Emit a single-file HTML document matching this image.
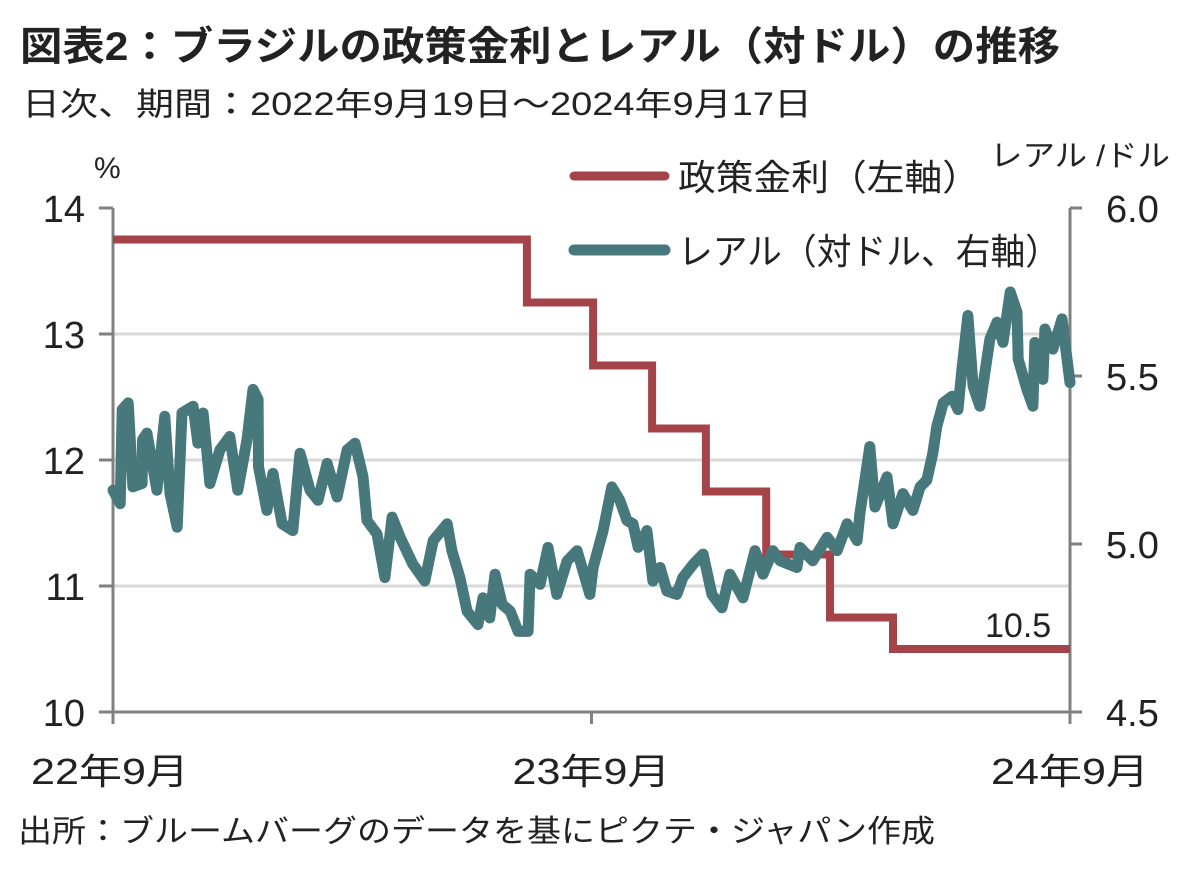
<!DOCTYPE html>
<html><head><meta charset="utf-8">
<style>
body{margin:0;background:#fff;}
svg text{font-family:"Liberation Sans","Noto Sans CJK JP",sans-serif;fill:#222;}
</style></head>
<body>
<svg id="chart" width="1200" height="866" viewBox="0 0 1200 866" xmlns="http://www.w3.org/2000/svg">
<text x="20" y="60" font-size="40" font-weight="bold" textLength="1040" lengthAdjust="spacingAndGlyphs">図表2：ブラジルの政策金利とレアル（対ドル）の推移</text>
<text x="22" y="115" font-size="32" fill="#444" textLength="790" lengthAdjust="spacingAndGlyphs">日次、期間：2022年9月19日～2024年9月17日</text>
<text x="94" y="178" font-size="30">%</text>
<text x="990" y="166" font-size="30" textLength="180" lengthAdjust="spacingAndGlyphs">レアル /ドル</text>
<g id="grid"></g>
<g id="axes"></g>
<g id="series"></g>
<line x1="574" y1="176" x2="665" y2="176" stroke="#a5434a" stroke-width="9" stroke-linecap="round"/>
<text x="678" y="190" font-size="36" textLength="302" lengthAdjust="spacingAndGlyphs">政策金利（左軸）</text>
<line x1="574" y1="250" x2="665" y2="250" stroke="#47787c" stroke-width="11" stroke-linecap="round"/>
<text x="678" y="264" font-size="36" textLength="382" lengthAdjust="spacingAndGlyphs">レアル（対ドル、右軸）</text>
<text x="985" y="637" font-size="34">10.5</text>
<text x="18" y="842" font-size="31" textLength="917" lengthAdjust="spacingAndGlyphs">出所：ブルームバーグのデータを基にピクテ・ジャパン作成</text>
</svg>
<script>
const rateMonths=[0,10.38,12.04,13.52,14.87,16.38,17.98,19.56,24];
const rateValues=[13.75,13.25,12.75,12.25,11.75,11.25,10.75,10.5,10.5];
const fxMonths=[0,0.18,0.23,0.38,0.50,0.73,0.74,0.85,1.10,1.30,1.43,1.61,1.73,2.01,2.13,2.26,2.43,2.68,2.93,3.13,3.36,3.51,3.64,3.65,3.86,4.01,4.24,4.51,4.69,4.94,5.14,5.37,5.62,5.87,6.07,6.27,6.37,6.62,6.82,7.00,7.20,7.52,7.82,8.03,
8.38,8.50,8.70,8.88,9.15,9.28,9.45,9.58,9.76,9.96,10.16,10.41,10.46,10.71,10.91,11.13,11.39,11.64,11.96,12.04,12.29,12.51,12.71,12.89,13.04,13.17,13.39,13.54,13.72,13.89,14.14,14.29,14.55,14.80,15.02,15.27,15.47,15.80,16.10,16.30,
16.55,16.73,17.15,17.23,17.55,17.91,18.16,18.41,18.66,18.73,18.98,19.11,19.41,19.56,19.81,20.06,20.24,20.41,20.56,20.66,20.82,21.04,21.19,21.29,21.44,21.57,21.74,21.99,22.17,22.32,22.50,22.67,22.70,22.92,23.07,23.12,23.32,23.37,23.57,23.80,24.00];
const fxValues=[5.16,5.12,5.40,5.42,5.17,5.18,5.31,5.33,5.16,5.38,5.15,5.05,5.39,5.41,5.30,5.39,5.18,5.28,5.32,5.16,5.31,5.46,5.43,5.23,5.10,5.21,5.06,5.04,5.27,5.16,5.13,5.24,5.14,5.28,5.30,5.20,5.07,5.03,4.90,5.08,5.02,4.94,4.89,5.01,
5.06,4.98,4.90,4.80,4.76,4.84,4.78,4.91,4.82,4.80,4.74,4.74,4.91,4.88,4.99,4.85,4.95,4.98,4.85,4.93,5.04,5.17,5.13,5.07,5.06,4.99,5.04,4.89,4.93,4.86,4.85,4.90,4.94,4.97,4.85,4.81,4.91,4.84,4.98,4.91,
4.98,4.95,4.93,4.99,4.95,5.02,4.98,5.06,5.01,5.09,5.29,5.11,5.20,5.06,5.15,5.10,5.17,5.19,5.27,5.35,5.42,5.44,5.40,5.52,5.68,5.47,5.41,5.61,5.66,5.60,5.75,5.69,5.55,5.46,5.41,5.60,5.49,5.64,5.58,5.67,5.48];
const leftTicks=[10,11,12,13,14];
const rightTicks=["4.5","5.0","5.5","6.0"];
const xTickMonths=[0,12,24];
const xTickLabels=["22年9月","23年9月","24年9月"];

const X0=113,X1=1070,Y0=712,Y1=208;
const xs=m=>X0+(X1-X0)*m/24;
const yL=v=>Y0-(Y0-Y1)*(v-10)/4;
const yR=v=>Y0-(Y0-Y1)*(v-4.5)/1.5;
const NS="http://www.w3.org/2000/svg";
function mk(parent,tag,attrs,text){const e=document.createElementNS(NS,tag);for(const k in attrs)e.setAttribute(k,attrs[k]);if(text!=null)e.textContent=text;parent.appendChild(e);return e;}
const grid=document.getElementById('grid'),axes=document.getElementById('axes'),series=document.getElementById('series');
leftTicks.forEach(v=>{
  const y=yL(v);
  if(v>10&&v<14){const g=mk(grid,'line',{x1:X0,x2:X1,y1:y,y2:y,stroke:'#d9d9d9','stroke-width':3});
  
  }
  const t=mk(axes,'line',{x1:X0-14,x2:X0,y1:y,y2:y,stroke:'#808080','stroke-width':3});
  
  
  const l=mk(axes,'text',{x:X0-28,y:y+14,'font-size':38,'text-anchor':'end'},String(v));
  
  
});
rightTicks.forEach(s=>{
  const y=yR(parseFloat(s));
  const t=mk(axes,'line',{x1:X1,x2:X1+12,y1:y,y2:y,stroke:'#808080','stroke-width':3});
  
  
  const l=mk(axes,'text',{x:X1+36,y:y+14,'font-size':38},s);
  
  
});
[[X0,Y1,X0,Y0],[X1,Y1,X1,Y0],[X0,Y0,X1,Y0]].forEach(a=>{
  const ln=mk(axes,'line',{x1:a[0],y1:a[1],x2:a[2],y2:a[3],stroke:'#808080','stroke-width':3});
  
  
});
xTickMonths.forEach((m,i)=>{
  const x=xs(m);
  const t=mk(axes,'line',{x1:x,x2:x,y1:Y0,y2:Y0+12,stroke:'#808080','stroke-width':3});
  
  
  let ax=x;
  if(i===0)ax=x-3; if(i===xTickMonths.length-1)ax=x-1;
  const l=mk(axes,'text',{x:ax+(i===0?0:0),y:784,'font-size':36,'text-anchor':'middle',textLength:158,lengthAdjust:'spacingAndGlyphs'},xTickLabels[i]);
  if(i===0)l.setAttribute('x',x-3);
  if(i===xTickMonths.length-1)l.setAttribute('x',x);
  
  
});
let fd='';
fxMonths.forEach((m,i)=>{fd+=(i?'L':'M')+xs(m).toFixed(1)+','+yR(fxValues[i]).toFixed(1);});
const fx=mk(series,'path',{d:fd,fill:'none',stroke:'#47787c','stroke-width':11,'stroke-linejoin':'round','stroke-linecap':'round'});


let rd='';
rateMonths.forEach((m,i)=>{
  if(i===0)rd+='M'+xs(m)+','+yL(rateValues[i]);
  else rd+='L'+xs(m).toFixed(1)+','+yL(rateValues[i-1])+'L'+xs(m).toFixed(1)+','+yL(rateValues[i]);
});
const rl=mk(series,'path',{d:rd,fill:'none',stroke:'#a5434a','stroke-width':8});


series.insertBefore(rl,fx);
</script>
</body></html>
